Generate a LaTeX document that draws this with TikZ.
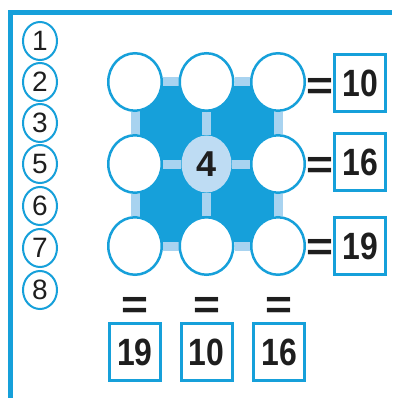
\documentclass[tikz,border=0pt]{standalone}
\usepackage{fontspec}
\usepackage{graphicx}
\setmainfont{Liberation Sans}
\usetikzlibrary{shapes.geometric,backgrounds}
\definecolor{bblue}{RGB}{22,160,218}
\definecolor{lblue}{RGB}{168,211,240}
\definecolor{cblue}{RGB}{190,220,243}
\definecolor{ink}{RGB}{30,30,30}
\newcommand{\nb}[1]{\scalebox{0.84}[1]{#1}}
\newcommand{\eqg}{\scalebox{1.05}[0.92]{=}}
\begin{document}
\begin{tikzpicture}[x=1pt,y=-1pt,
 bigc/.style={ellipse,draw=bblue,line width=2.5pt,fill=white,minimum width=53.5pt,minimum height=57.5pt,inner sep=0pt},
 ctr/.style={ellipse,fill=cblue,minimum width=50pt,minimum height=57pt,inner sep=0pt,text=ink,font=\bfseries\fontsize{36}{36}\selectfont},
 smallc/.style={ellipse,draw=bblue,line width=2pt,fill=white,minimum width=34pt,minimum height=38pt,inner sep=0pt,text=ink,font=\fontsize{28}{28}\selectfont},
 numbox/.style={draw=bblue,line width=3pt,fill=white,minimum width=51pt,minimum height=57pt,inner sep=0pt,text=ink,font=\bfseries\fontsize{38}{38}\selectfont},
 eqsign/.style={inner sep=0pt,text=ink,font=\bfseries\fontsize{44}{44}\selectfont},
 bar/.style={draw=lblue,line width=9pt},
 frameline/.style={draw=bblue,line width=5pt}]
\useasboundingbox (0,0) rectangle (392,398);
\draw[frameline] (10,398) -- (10,12.5) -- (392,12.5);
% number list
\node[smallc] (n1) at (40,41) {1};
\node[smallc] (n2) at (40,82) {2};
\node[smallc] (n3) at (40,123) {3};
\node[smallc] (n5) at (40,164) {5};
\node[smallc] (n6) at (40,206) {6};
\node[smallc] (n7) at (40,248) {7};
\node[smallc] (n8) at (40,290) {8};
% grid circles
\node[bigc] (c11) at (135,82) {};
\node[bigc] (c12) at (206.5,82) {};
\node[bigc] (c13) at (278,82) {};
\node[bigc] (c21) at (135,164) {};
\node[ctr]  (c22) at (206.5,164) {4};
\node[bigc] (c23) at (278,164) {};
\node[bigc] (c31) at (135,246) {};
\node[bigc] (c32) at (206.5,246) {};
\node[bigc] (c33) at (278,246) {};
\begin{scope}[on background layer]
\fill[white] (0,0) rectangle (392,398);
\fill[bblue] ([xshift=4.5pt,yshift=-4.5pt]c11.center) rectangle ([xshift=-4.5pt,yshift=4.5pt]c33.center);
\draw[bar] (c11) -- (c12); \draw[bar] (c12) -- (c13);
\draw[bar] (c21) -- (c22); \draw[bar] (c22) -- (c23);
\draw[bar] (c31) -- (c32); \draw[bar] (c32) -- (c33);
\draw[bar] (c11) -- (c21); \draw[bar] (c21) -- (c31);
\draw[bar] (c12) -- (c22); \draw[bar] (c22) -- (c32);
\draw[bar] (c13) -- (c23); \draw[bar] (c23) -- (c33);
\end{scope}
% right sums
\node[eqsign] (e1) at (320,89) {\eqg};
\node[eqsign] (e2) at (320,167.5) {\eqg};
\node[eqsign] (e3) at (320,249.5) {\eqg};
\node[numbox] (r1) at (360,83) {\nb{10}};
\node[numbox] (r2) at (360,162) {\nb{16}};
\node[numbox] (r3) at (360,246) {\nb{19}};
% bottom sums
\node[eqsign] (b1e) at (135,307.5) {\eqg};
\node[eqsign] (b2e) at (206.5,307.5) {\eqg};
\node[eqsign] (b3e) at (279,307.5) {\eqg};
\node[numbox] (b1) at (135,352) {\nb{19}};
\node[numbox] (b2) at (206.5,352) {\nb{10}};
\node[numbox] (b3) at (279,352) {\nb{16}};
\end{tikzpicture}
\end{document}
